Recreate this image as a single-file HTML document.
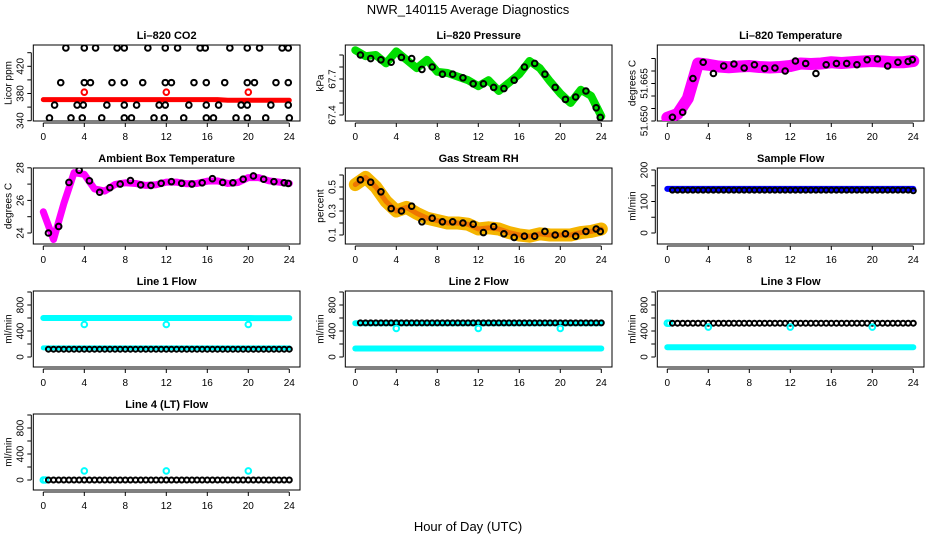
<!DOCTYPE html>
<html><head><meta charset="utf-8"><style>
body{margin:0;background:#fff}
svg{display:block;font-family:"Liberation Sans",sans-serif}
</style></head><body>
<svg id="c" width="936" height="540" viewBox="0 0 936 540">
<text x="468" y="14" text-anchor="middle" font-size="13">NWR_140115  Average Diagnostics</text>
<text x="468" y="531" text-anchor="middle" font-size="13">Hour of Day (UTC)</text>
</svg>
<script>
const HRS25=[0,1,2,3,4,5,6,7,8,9,10,11,12,13,14,15,16,17,18,19,20,21,22,23,24];
const HALF25=[0.5,1.5,2.5,3.5,4.5,5.5,6.5,7.5,8.5,9.5,10.5,11.5,12.5,13.5,14.5,15.5,16.5,17.5,18.5,19.5,20.5,21.5,22.5,23.5,23.9];
const HH=[0.5,1,1.5,2,2.5,3,3.5,4,4.5,5,5.5,6,6.5,7,7.5,8,8.5,9,9.5,10,10.5,11,11.5,12,12.5,13,13.5,14,14.5,15,15.5,16,16.5,17,17.5,18,18.5,19,19.5,20,20.5,21,21.5,22,22.5,23,23.5,24];
const OUT_HRS=[4,12,20];
// CO2
const co2BlackHours=[2.2,4,5.1,7.2,7.9,10.2,11.9,13.1,15.3,15.8,18.2,19.9,21.1,23.3,23.9,1.7,4,4.6,6.7,7.9,9.7,11.9,12.5,14.7,15.9,17.7,19.9,20.6,22.7,23.9,1.1,3.3,3.9,6.2,7.9,9.1,11.3,11.9,14.2,15.9,17.1,19.3,19.9,22.2,23.9,0.6,2.7,3.8,5.7,7.9,8.6,10.8,11.8,13.7,15.9,16.6,18.8,19.9,21.7,24];
const co2BlackValues=[447,447,447,447,447,447,447,447,447,447,447,447,447,447,447,396,396,396,396,396,396,396,396,396,396,396,396,396,396,396,363,363,363,363,363,363,363,363,363,363,363,363,363,363,363,344,344,344,344,344,344,344,344,344,344,344,344,344,344,344];
const co2Red=[371,371,371,371,371,371,371,371,371,371,371,371,371,371,371,371,371,371,370,370,370,370,370,370,370];
const co2RedOut=[382,382,382];
// Pressure
const presGreen=[67.94,67.89,67.90,67.83,67.93,67.86,67.79,67.86,67.76,67.75,67.72,67.69,67.64,67.69,67.60,67.67,67.74,67.85,67.79,67.68,67.58,67.50,67.61,67.56,67.39];
const presBlack=[67.90,67.87,67.86,67.84,67.88,67.87,67.78,67.80,67.74,67.74,67.71,67.66,67.66,67.63,67.62,67.69,67.80,67.83,67.74,67.63,67.53,67.55,67.60,67.46,67.38];
// Li-820 temperature
const tempMag=[51.6513,51.6528,51.6590,51.6730,51.6725,51.6718,51.6715,51.6718,51.6720,51.6716,51.6714,51.6716,51.6720,51.6730,51.6728,51.6730,51.6735,51.6732,51.6735,51.6738,51.6740,51.6738,51.6735,51.6735,51.6740];
const tempBlack=[51.6515,51.6535,51.6670,51.6735,51.6690,51.6720,51.6728,51.6712,51.6725,51.6710,51.6712,51.6700,51.6740,51.6730,51.6690,51.6725,51.6730,51.6730,51.6725,51.6745,51.6748,51.6720,51.6735,51.6738,51.6745];
// Ambient
const ambMag=[25.3,23.6,25.8,27.7,27.6,26.7,26.57,26.98,27.08,27.04,26.92,26.96,27.12,27.12,27.02,27.04,27.18,27.2,27.04,27.1,27.4,27.4,27.2,27.12,27.04];
const ambBlack=[24.0,24.4,27.1,27.85,27.2,26.5,26.78,27.0,27.22,26.95,26.92,27.05,27.15,27.05,27.0,27.08,27.33,27.1,27.08,27.3,27.5,27.3,27.15,27.08,27.04];
// RH
const rhOrange=[0.52,0.58,0.50,0.38,0.30,0.33,0.28,0.24,0.22,0.20,0.20,0.19,0.15,0.16,0.15,0.12,0.10,0.09,0.11,0.10,0.10,0.10,0.12,0.13,0.15];
const rhBlack=[0.56,0.54,0.46,0.32,0.30,0.34,0.21,0.24,0.21,0.21,0.20,0.19,0.12,0.17,0.11,0.08,0.09,0.09,0.13,0.10,0.11,0.09,0.13,0.15,0.13];
// Flows
const sampleBlue=[140,140,140,140,140,140,140,140,140,140,140,140,140,140,140,140,140,140,140,140,140,140,140,140,140];
const sampleBlack=[136,136,136,136,136,136,136,136,136,136,136,136,136,136,136,136,136,136,136,136,136,136,136,136,136,136,136,136,136,136,136,136,136,136,136,136,136,136,136,136,136,136,136,136,136,136,136,134];
const l1CyanHigh=[600,600,600,600,600,600,600,600,600,600,600,600,600,600,600,600,600,600,600,600,600,598,598,598,598];
const l1CyanLow=[140,140,140,140,140,140,140,140,140,140,140,140,140,140,140,140,140,140,140,140,140,140,140,140,140];
const l1Black=[120,120,120,120,120,120,120,120,120,120,120,120,120,120,120,120,120,120,120,120,120,120,120,120,120,120,120,120,120,120,120,120,120,120,120,120,120,120,120,120,120,120,120,120,120,120,120,120];
const l1Out=[500,500,500];
const l2CyanHigh=[520,520,520,520,520,520,520,520,520,520,520,520,520,520,520,520,520,520,520,520,520,520,520,520,520];
const l2CyanLow=[130,130,130,130,130,130,130,130,130,130,130,130,130,130,130,130,130,130,130,130,130,130,130,130,130];
const l2Black=[525,525,525,525,525,525,525,525,525,525,525,525,525,525,525,525,525,525,525,525,525,525,525,525,525,525,525,525,525,525,525,525,525,525,525,525,525,525,525,525,525,525,525,525,525,525,525,525];
const l2Out=[440,440,440];
const l3CyanLow=[150,150,150,150,150,150,150,150,150,150,150,150,150,150,150,150,150,150,150,150,150,150,150,150,150];
const l3Black=[520,520,520,520,520,520,520,520,520,520,520,520,520,520,520,520,520,520,520,520,520,520,520,520,520,520,520,520,520,520,520,520,520,520,520,520,520,520,520,520,520,520,520,520,520,520,520,520];
const l3Out=[460,460,460];
const l4Black=[0,0,0,0,0,0,0,0,0,0,0,0,0,0,0,0,0,0,0,0,0,0,0,0,0,0,0,0,0,0,0,0,0,0,0,0,0,0,0,0,0,0,0,0,0,0,0,0];
const l4Out=[140,140,140];

const NS="http://www.w3.org/2000/svg";
const svg=document.getElementById('c');
function mk(tag,attrs,parent){const e=document.createElementNS(NS,tag);for(const k in attrs)e.setAttribute(k,attrs[k]);(parent||svg).appendChild(e);return e;}
const COLX=[43.3,355.3,667.3];const PPH=246/24;
const ROWTOP=[45,168,291,414];const BH=76;
function panel(col,row,title,ylab,v0,p0,k,ticks,labels,name){
  const g=mk('g',{});
  
  
  const x=h=>COLX[col]+h*PPH;
  const y=v=>p0-(v-v0)*k;
  const L=COLX[col]-10,R=COLX[col]+256.7,T=ROWTOP[row],B=T+BH;
  const box=mk('rect',{x:L,y:T,width:R-L,height:BH,fill:'none',stroke:'#000','stroke-width':1},g);
  
  
  const t=mk('text',{x:(L+R)/2,y:T-6,'text-anchor':'middle','font-size':11,'font-weight':'bold'},g);t.textContent=title;
  
  
  mk('line',{x1:x(0),x2:x(24),y1:B+2,y2:B+2,stroke:'#000'},g);
  for(let h=0;h<=24;h+=4){
    mk('line',{x1:x(h),x2:x(h),y1:B+2,y2:B+6,stroke:'#000'},g);
    const tl=mk('text',{x:x(h),y:B+19,'text-anchor':'middle','font-size':10},g);tl.textContent=h;
    
    
  }
  mk('line',{x1:L-2,x2:L-2,y1:y(ticks[0]),y2:y(ticks[ticks.length-1]),stroke:'#000'},g);
  ticks.forEach(v=>mk('line',{x1:L-6,x2:L-2,y1:y(v),y2:y(v),stroke:'#000'},g));
  labels.forEach(v=>{const yy=y(v);const tl=mk('text',{x:L-10,y:yy,'text-anchor':'middle','font-size':10,transform:`rotate(-90 ${L-10} ${yy})`},g);tl.textContent=String(v);
    
    });
  const yl=mk('text',{x:L-22,y:(T+B)/2,'text-anchor':'middle','font-size':10,transform:`rotate(-90 ${L-22} ${(T+B)/2})`},g);yl.textContent=ylab;
  
  
  const clip='cl'+col+row;const cp=mk('clipPath',{id:clip},g);mk('rect',{x:L,y:T,width:R-L,height:BH},cp);
  const d=mk('g',{'clip-path':`url(#${clip})`},g);
  return {x,y,d};
}
function band(P,hrs,vals,color,w,name){
  const pts=hrs.map((h,i)=>P.x(h)+','+P.y(vals[i])).join(' ');
  const pl=mk('polyline',{points:pts,fill:'none',stroke:color,'stroke-width':w,'stroke-linejoin':'round','stroke-linecap':'round'},P.d);
  
  
}
function pts(P,hrs,vals,color,name,r){
  hrs.forEach((h,i)=>{const c=mk('circle',{cx:P.x(h),cy:P.y(vals[i]),r:r||2.8,fill:'none',stroke:color,'stroke-width':2},P.d);
    
    });
}
// Row 1
let P=panel(0,0,'Li\u2013820 CO2','Licor ppm',340,120.7,0.68,[340,360,380,400,420,440],[340,380,420],'co2-panel');
band(P,HRS25,co2Red,'#ff0000',5,'co2-red-band');
pts(P,co2BlackHours,co2BlackValues,'#000','co2-point');
pts(P,OUT_HRS,co2RedOut,'#ff0000','co2-red-outlier');
P=panel(1,0,'Li\u2013820 Pressure','kPa',67.4,115,120,[67.4,67.5,67.6,67.7,67.8,67.9],[67.4,67.7],'pressure-panel');
band(P,HRS25,presGreen,'#00dd00',8,'pressure-green-band');
pts(P,HALF25,presBlack,'#000','pressure-point');
P=panel(2,0,'Li\u2013820 Temperature','degrees C',51.650,121,2500,[51.650,51.655,51.660,51.665,51.670,51.675],['51.650','51.665'],'temperature-panel');
band(P,HRS25,tempMag,'#ff00ff',12,'temperature-magenta-band');
pts(P,HALF25,tempBlack,'#000','temperature-point');
// Row 2
P=panel(0,1,'Ambient Box Temperature','degrees C',24,233,16.3,[24,25,26,27,28],[24,26,28],'ambient-panel');
band(P,HRS25,ambMag,'#ff00ff',7,'ambient-magenta-band');
pts(P,HALF25,ambBlack,'#000','ambient-point');
P=panel(1,1,'Gas Stream RH','percent',0.1,235,120,[0.1,0.2,0.3,0.4,0.5,0.6],[0.1,0.3,0.5],'rh-panel');
band(P,HRS25,rhOrange,'#f5b400',13,'rh-orange-band');
band(P,HRS25,rhOrange,'#ee7700',5,'rh-orange-core');
pts(P,HALF25,rhBlack,'#000','rh-point');
P=panel(2,1,'Sample Flow','ml/min',0,233,0.315,[0,50,100,150,200],[0,100,200],'sample-flow-panel');
band(P,HRS25,sampleBlue,'#0000ff',6,'sample-blue-band');
pts(P,HH,sampleBlack,'#000','sample-point',2.5);
// Row 3
const FT=[0,200,400,600,800,1000],FL=[0,400,800];
P=panel(0,2,'Line 1 Flow','ml/min',0,357,0.065,FT,FL,'line1-panel');
band(P,HRS25,l1CyanHigh,'#00ffff',6,'line1-cyan-high');
band(P,HRS25,l1CyanLow,'#00ffff',5,'line1-cyan-low');
pts(P,HH,l1Black,'#000','line1-point',2.5);
pts(P,OUT_HRS,l1Out,'#00ffff','line1-outlier');
P=panel(1,2,'Line 2 Flow','ml/min',0,357,0.065,FT,FL,'line2-panel');
band(P,HRS25,l2CyanHigh,'#00ffff',6,'line2-cyan-high');
band(P,HRS25,l2CyanLow,'#00ffff',6,'line2-cyan-low');
pts(P,HH,l2Black,'#000','line2-point',2.5);
pts(P,OUT_HRS,l2Out,'#00ffff','line2-outlier');
P=panel(2,2,'Line 3 Flow','ml/min',0,357,0.065,FT,FL,'line3-panel');
band(P,HRS25,l3CyanLow,'#00ffff',6,'line3-cyan-low');
pts(P,[0,0.2],[520,520],'#00ffff','line3-cyan-start');
pts(P,HH,l3Black,'#000','line3-point',2.5);
pts(P,OUT_HRS,l3Out,'#00ffff','line3-outlier');
// Row 4
P=panel(0,3,'Line 4 (LT) Flow','ml/min',0,480,0.065,FT,FL,'line4-panel');
pts(P,[0,0.2],[0,0],'#00ffff','line4-cyan-start');
pts(P,HH,l4Black,'#000','line4-point',2.5);
pts(P,OUT_HRS,l4Out,'#00ffff','line4-outlier');
</script>
</body></html>
